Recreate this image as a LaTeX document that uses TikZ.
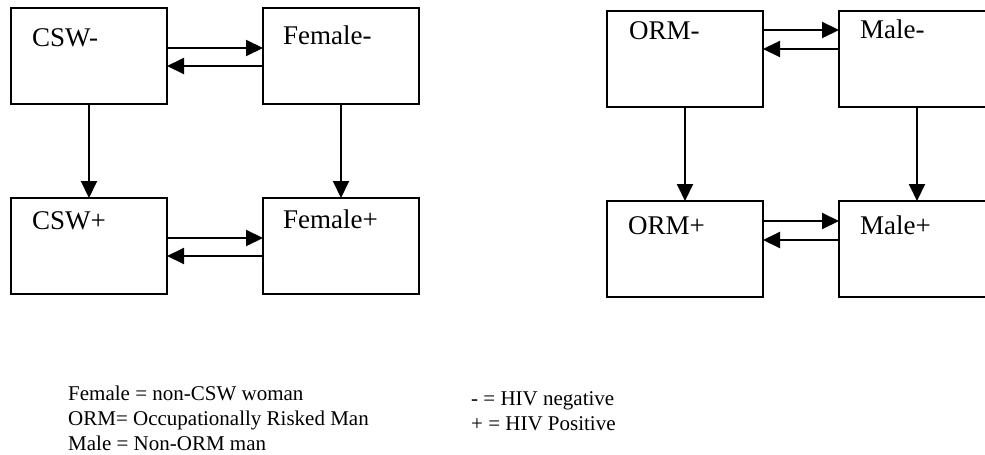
\documentclass[tikz,border=0pt]{standalone}
\usepackage{fontspec}
\setmainfont{Liberation Serif}
\usetikzlibrary{arrows.meta, positioning}

\begin{document}
\begin{tikzpicture}[
    x=1pt, y=-1pt,
    % Styles
    box/.style={rectangle, draw, line width=2pt, minimum width=156pt, minimum height=96pt, inner sep=0pt, outer sep=0pt},
    tag/.style={anchor=base west, inner sep=0pt, font=\fontsize{27}{32}\selectfont},
    arrow/.style={-{Triangle[length=17pt, width=16pt]}, line width=2pt},
    legend/.style={anchor=north west, align=left, inner sep=0pt, font=\fontsize{21}{25}\selectfont}
]
\useasboundingbox (0,0) rectangle (985,455);

% --- CSW / Female group ---
\node[box, label={[tag, xshift=21pt, yshift=-38pt]north west:CSW-}] (csw_neg) at (89,56) {};
\node[box, right=96pt of csw_neg, label={[tag, xshift=20pt, yshift=-36pt]north west:Female-}] (fem_neg) {};
\node[box, below=94pt of csw_neg, label={[tag, xshift=21pt, yshift=-31pt]north west:CSW+}] (csw_pos) {};
\node[box, right=96pt of csw_pos, label={[tag, xshift=20pt, yshift=-30pt]north west:Female+}] (fem_pos) {};

\draw[arrow] ([yshift=8pt]csw_neg.east) -- ([yshift=8pt]fem_neg.west);
\draw[arrow] ([yshift=-10pt]fem_neg.west) -- ([yshift=-10pt]csw_neg.east);
\draw[arrow] ([yshift=8pt]csw_pos.east) -- ([yshift=8pt]fem_pos.west);
\draw[arrow] ([yshift=-10pt]fem_pos.west) -- ([yshift=-10pt]csw_pos.east);
\draw[arrow] (csw_neg) -- (csw_pos);
\draw[arrow] (fem_neg) -- (fem_pos);

% --- ORM / Male group ---
\node[box, label={[tag, xshift=22pt, yshift=-28pt]north west:ORM-}] (orm_neg) at (685,59) {};
\node[box, right=76pt of orm_neg, label={[tag, xshift=21pt, yshift=-27pt]north west:Male-}] (male_neg) {};
\node[box, below=94pt of orm_neg, label={[tag, xshift=21pt, yshift=-33pt]north west:ORM+}] (orm_pos) {};
\node[box, right=76pt of orm_pos, label={[tag, xshift=21pt, yshift=-33pt]north west:Male+}] (male_pos) {};

\draw[arrow] ([yshift=29pt]orm_neg.east) -- ([yshift=29pt]male_neg.west);
\draw[arrow] ([yshift=10pt]male_neg.west) -- ([yshift=10pt]orm_neg.east);
\draw[arrow] ([yshift=28pt]orm_pos.east) -- ([yshift=28pt]male_pos.west);
\draw[arrow] ([yshift=9pt]male_pos.west) -- ([yshift=9pt]orm_pos.east);
\draw[arrow] (orm_neg) -- (orm_pos);
\draw[arrow] (male_neg) -- (male_pos);

% --- Legend ---
\node[legend] (key_groups) at (68,386) {Female = non-CSW woman\\ORM= Occupationally Risked Man\\Male = Non-ORM man};
\node[legend] (key_status) at (471,391) {- = HIV negative\\+ = HIV Positive};

\end{tikzpicture}
\end{document}
